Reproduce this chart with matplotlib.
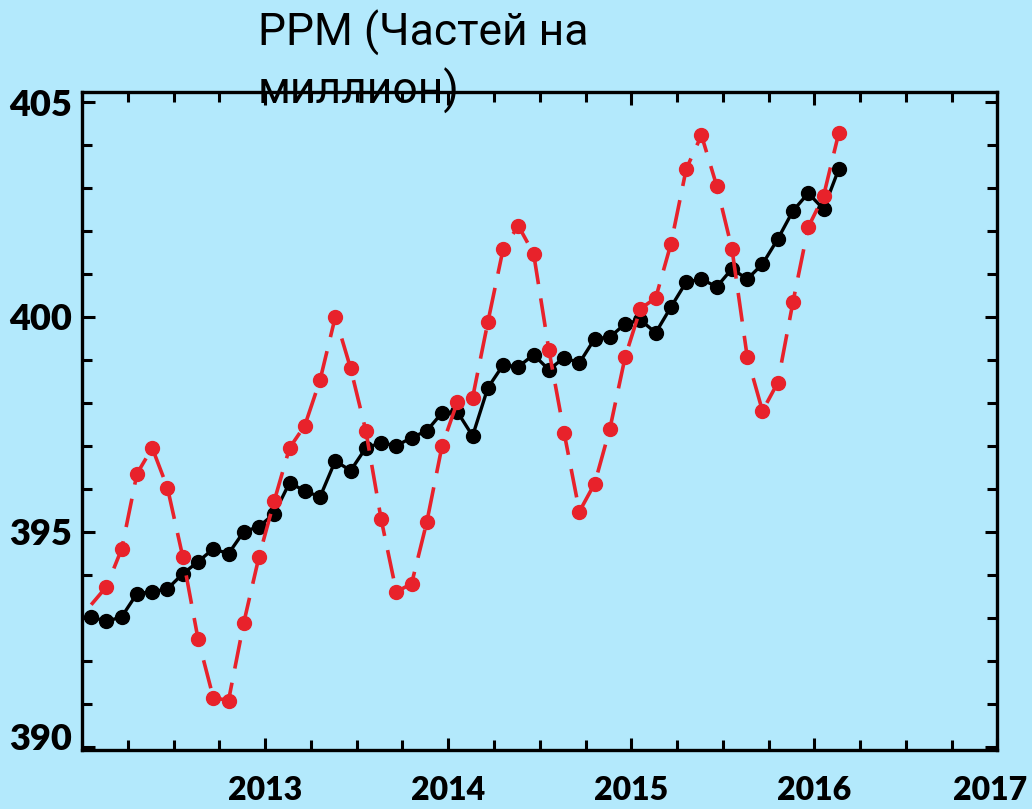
import numpy as np
import matplotlib
matplotlib.use("Agg")
import matplotlib.pyplot as plt
import matplotlib.transforms as mtransforms
from matplotlib.ticker import MultipleLocator

# monthly readings, Jan 2012 .. Feb 2016
months = np.arange(50)
years = 2012.05 + months / 12.0

# black: seasonally adjusted trend
trend = [393.02, 392.91, 393.02, 393.56, 393.60, 393.67, 394.02, 394.30, 394.60, 394.49,
         395.00, 395.12, 395.42, 396.14, 395.95, 395.81, 396.65, 396.42, 396.95, 397.07,
         397.00, 397.19, 397.35, 397.77, 397.79, 397.23, 398.35, 398.88, 398.84, 399.12,
         398.77, 399.05, 398.93, 399.49, 399.53, 399.84, 399.93, 399.63, 400.23, 400.81,
         400.88, 400.70, 401.12, 400.88, 401.23, 401.81, 402.47, 402.88, 402.51, 403.44]

# red: monthly mean
monthly = [393.30, 393.72, 394.60, 396.35, 396.95, 396.02, 394.42, 392.51, 391.14, 391.07,
           392.88, 394.42, 395.72, 396.95, 397.47, 398.53, 400.00, 398.81, 397.35, 395.30,
           393.60, 393.79, 395.23, 397.00, 398.02, 398.12, 399.88, 401.58, 402.12, 401.47,
           399.23, 397.30, 395.47, 396.12, 397.40, 399.07, 400.19, 400.44, 401.70, 403.44,
           404.23, 403.05, 401.58, 399.07, 397.81, 398.47, 400.35, 402.09, 402.81, 404.28]

year_ticks = [2013, 2014, 2015, 2016, 2017]
ppm_ticks = [390, 395, 400, 405]

bg = '#b3e9fc'
red = '#e8222b'

fig = plt.figure(figsize=(10.32, 8.09), dpi=100, facecolor=bg)
ax = fig.add_axes([0.0795, 0.073, 0.887, 0.813], facecolor=bg)

ax.plot(years, trend, color='black', lw=2.4, marker='o', ms=10, zorder=3)
ax.plot(years, monthly, color=red, lw=2.6, dashes=(8, 4), marker='o', ms=10,
        markevery=range(1, 50), zorder=4)

ax.set_xlim(2012, 2017)
ax.set_ylim(389.92, 405.23)

ax.set_xticks(year_ticks)
ax.set_xticklabels([str(y) for y in year_ticks])
ax.xaxis.set_minor_locator(MultipleLocator(0.25))
ax.set_yticks(ppm_ticks)
ax.set_yticklabels([str(p) for p in ppm_ticks])
ax.yaxis.set_minor_locator(MultipleLocator(1))

ax.tick_params(which='both', direction='in', top=True, right=True, width=2.2, color='black')
ax.tick_params(which='major', length=9)
ax.tick_params(which='minor', length=7)
ax.tick_params(axis='x', which='major', pad=19)
ax.tick_params(axis='y', which='major', pad=7)

for lab in ax.get_xticklabels():
    lab.set_fontfamily('Lato')
    lab.set_fontweight('heavy')
    lab.set_fontsize(23)
for lab in ax.get_yticklabels():
    lab.set_fontfamily('Lato')
    lab.set_fontweight('heavy')
    lab.set_fontsize(26)

# the bottom label sits a little higher than its tick
lab390 = ax.get_yticklabels()[0]
lab390.set_transform(lab390.get_transform() +
                     mtransforms.ScaledTranslation(0, 10 / 100, fig.dpi_scale_trans))
# last year label pulled in so it stays on the canvas
lab2017 = ax.get_xticklabels()[-1]
lab2017.set_transform(lab2017.get_transform() +
                      mtransforms.ScaledTranslation(-7 / 100, 0, fig.dpi_scale_trans))

for s in ax.spines.values():
    s.set_linewidth(2.4)

fig.text(258 / 1032, 1 - 46 / 809, 'PPM (Частей на', fontsize=32,
         family=['Roboto', 'DejaVu Sans'], ha='left', va='baseline')
fig.text(258 / 1032, 1 - 104 / 809, 'миллион)', fontsize=32,
         family=['Roboto', 'DejaVu Sans'], ha='left', va='baseline')

fig.savefig('out.png', dpi=100, facecolor=bg)
